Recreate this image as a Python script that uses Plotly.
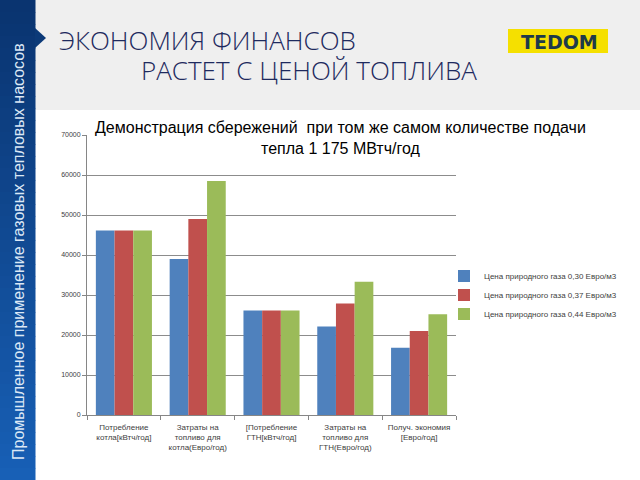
import plotly.graph_objects as go

categories = [
    "Потребление<br>котла[кВтч/год]",
    "Затраты на<br>топливо для<br>котла(Евро/год)",
    "[Потребление<br>ГТН[кВтч/год]",
    "Затраты на<br>топливо для<br>ГТН(Евро/год)",
    "Получ. экономия<br>[Евро/год]",
]
series_names = [
    "Цена природного газа 0,30 Евро/м3",
    "Цена природного газа 0,37 Евро/м3",
    "Цена природного газа 0,44 Евро/м3",
]
values_030 = [46100, 39000, 26100, 22100, 16800]
values_037 = [46100, 49000, 26100, 27900, 21000]
values_044 = [46100, 58500, 26100, 33300, 25200]
y_ticks = [0, 10000, 20000, 30000, 40000, 50000, 60000, 70000]

chart_title = "Демонстрация сбережений  при том же самом количестве подачи<br>тепла 1 175 МВтч/год"
heading1 = "ЭКОНОМИЯ ФИНАНСОВ"
heading2 = "РАСТЕТ С ЦЕНОЙ ТОПЛИВА"
side_text = "Промышленное применение газовых тепловых насосов"
logo_text = "TEDOM"

colors = ["#4f81bd", "#c0504d", "#9bbb59"]

W, H = 640, 480
L, R, T, B = 87, 456, 135, 415


def px(x):
    return (x - L) / (R - L)


def py(y):
    return (B - y) / (B - T)


fig = go.Figure()
for name, vals, c in zip(series_names, [values_030, values_037, values_044], colors):
    fig.add_trace(go.Bar(x=categories, y=vals, name=name, marker=dict(color=c, line=dict(width=0))))

shapes = []
# gray top band
shapes.append(dict(type="rect", xref="paper", yref="paper", x0=px(35), x1=px(640), y0=py(110), y1=py(0),
                   fillcolor="#efefef", line=dict(width=0), layer="below"))
# sidebar gradient
n = 40
c0 = (10, 52, 112)
c1 = (24, 96, 182)
for i in range(n):
    t = i / (n - 1)
    col = "rgb(%d,%d,%d)" % tuple(int(a + (b - a) * t) for a, b in zip(c0, c1))
    y0 = H * i / n
    y1 = H * (i + 1) / n + 0.5
    shapes.append(dict(type="rect", xref="paper", yref="paper", x0=px(0), x1=px(35.5), y0=py(y1), y1=py(y0),
                       fillcolor=col, line=dict(width=0), layer="above"))
# arrow notch
shapes.append(dict(type="path", xref="paper", yref="paper",
                   path="M %f %f L %f %f L %f %f Z" % (px(35), py(28), px(46), py(38), px(35), py(48)),
                   fillcolor="rgb(12,58,120)", line=dict(width=0), layer="above"))
# logo
shapes.append(dict(type="rect", xref="paper", yref="paper", x0=px(508), x1=px(608), y0=py(53), y1=py(29),
                   fillcolor="#f5e000", line=dict(width=0), layer="above"))

head_font = dict(family="Open Sans, DejaVu Sans", size=26, color="#1e2a5e", weight=300)
annotations = [
    dict(text=heading1, xref="paper", yref="paper", x=px(57), y=py(40), xanchor="left", yanchor="middle",
         showarrow=False, font=head_font),
    dict(text=heading2, xref="paper", yref="paper", x=px(139), y=py(70), xanchor="left", yanchor="middle",
         showarrow=False, font=head_font),
    dict(text="<b>" + logo_text + "</b>", xref="paper", yref="paper", x=px(559), y=py(42), xanchor="center",
         yanchor="middle", showarrow=False, font=dict(family="DejaVu Sans", size=19, color="#1d3a4a")),
    dict(text=side_text, xref="paper", yref="paper", x=px(18), y=py(252), xanchor="center", yanchor="middle",
         textangle=-90, showarrow=False, font=dict(family="Liberation Sans, Arial", size=16, color="#dce8f6")),
    dict(text=chart_title, xref="paper", yref="paper", x=px(340), y=py(117), xanchor="center", yanchor="top",
         showarrow=False, font=dict(family="Liberation Sans, Arial", size=16, color="#000000")),
]

fig.update_layout(
    width=W, height=H,
    margin=dict(l=L, r=W - R, t=T, b=H - B, pad=0),
    paper_bgcolor="white", plot_bgcolor="white",
    barmode="group", bargap=0.24, bargroupgap=0,
    shapes=shapes, annotations=annotations,
    showlegend=True,
    legend=dict(x=px(444), y=py(295), xanchor="left", yanchor="middle",
                font=dict(family="Liberation Sans, Arial", size=8, color="#404040"),
                itemwidth=30, tracegroupgap=0, bgcolor="rgba(0,0,0,0)"),
    font=dict(family="Liberation Sans, Arial"),
)
fig.update_xaxes(showline=True, linecolor="#868686", linewidth=1, ticks="outside", ticklen=4, tickcolor="#868686",
                 tickson="boundaries", tickfont=dict(size=8, color="#404040"), showgrid=False,
                 ticklabelstandoff=4)
fig.update_yaxes(range=[0, 70000], tickvals=y_ticks, ticktext=[str(v) for v in y_ticks],
                 showline=True, linecolor="#868686", linewidth=1, ticks="outside", ticklen=4, tickcolor="#868686",
                 showgrid=True, gridcolor="#8c8c8c", gridwidth=1, zeroline=False,
                 tickfont=dict(size=7, color="#404040"))

fig.write_html("out.html", config={"displayModeBar": False},
               post_script="document.body.style.margin='0';document.body.style.overflow='hidden';")
